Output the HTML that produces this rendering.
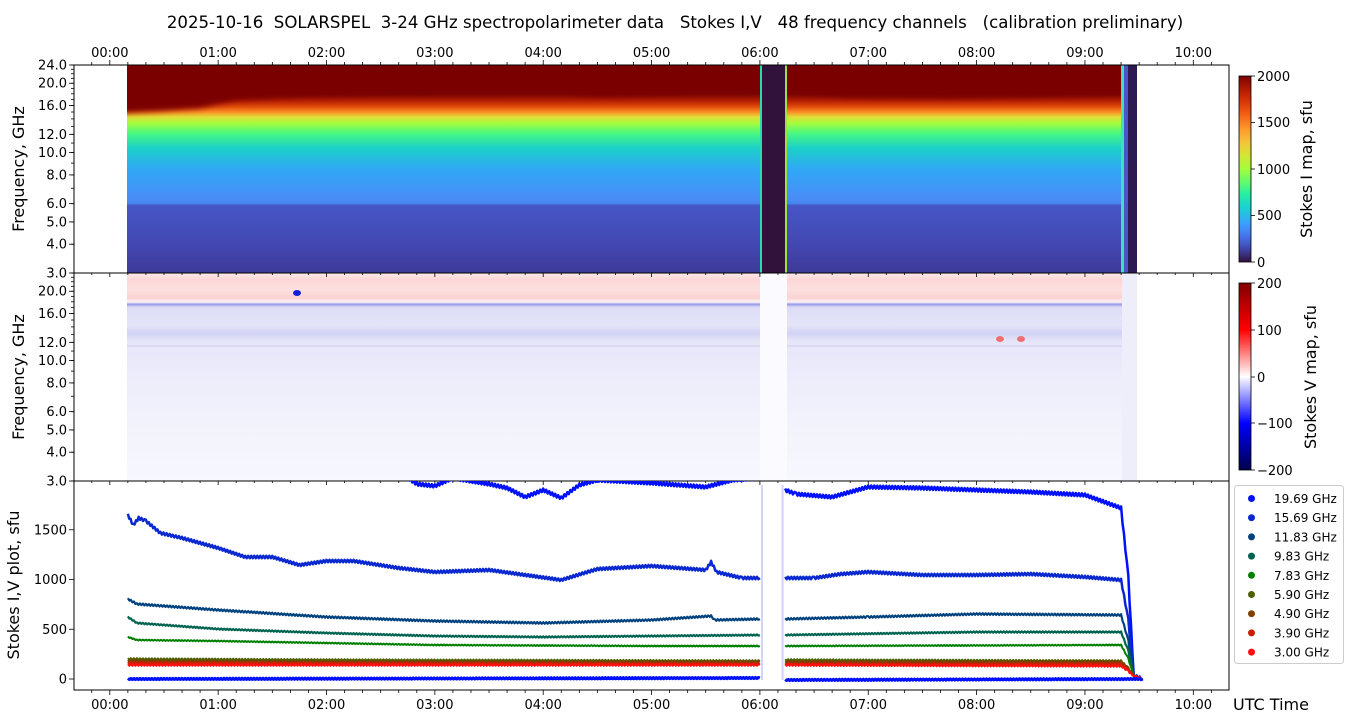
<!DOCTYPE html>
<html><head><meta charset="utf-8"><style>
html,body{margin:0;padding:0;background:#fff;}
svg{display:block;font-family:"DejaVu Sans","Liberation Sans",sans-serif;}
</style></head><body>
<svg id="s" width="1350" height="725" viewBox="0 0 1350 725" xmlns="http://www.w3.org/2000/svg">
<defs>
<linearGradient id="gI" gradientUnits="userSpaceOnUse" x1="0" y1="65" x2="0" y2="273">
<stop offset="0" stop-color="#7a0403"/>
<stop offset="0.14" stop-color="#7a0403"/>
<stop offset="0.17" stop-color="#b01c02"/>
<stop offset="0.20" stop-color="#e04a0a"/>
<stop offset="0.225" stop-color="#fb8a22"/>
<stop offset="0.25" stop-color="#e1dd37"/>
<stop offset="0.28" stop-color="#a4fc3b"/>
<stop offset="0.33" stop-color="#46f884"/>
<stop offset="0.40" stop-color="#1bd0c8"/>
<stop offset="0.50" stop-color="#30a8f5"/>
<stop offset="0.62" stop-color="#4591f8"/>
<stop offset="0.665" stop-color="#4a86f0"/>
<stop offset="0.675" stop-color="#4556c6"/>
<stop offset="0.85" stop-color="#4449b4"/>
<stop offset="1" stop-color="#3d3a98"/>
</linearGradient>
<linearGradient id="cbI" x1="0" y1="1" x2="0" y2="0">
<stop offset="0" stop-color="#30123b"/><stop offset="0.07" stop-color="#4145ab"/>
<stop offset="0.14" stop-color="#4675ed"/><stop offset="0.21" stop-color="#39a2fc"/>
<stop offset="0.29" stop-color="#1bcfd4"/><stop offset="0.36" stop-color="#24eca6"/>
<stop offset="0.43" stop-color="#61fc6c"/><stop offset="0.5" stop-color="#a4fc3b"/>
<stop offset="0.57" stop-color="#d1e834"/><stop offset="0.64" stop-color="#f3c63a"/>
<stop offset="0.71" stop-color="#fe9b2d"/><stop offset="0.79" stop-color="#f36315"/>
<stop offset="0.86" stop-color="#d93806"/><stop offset="0.93" stop-color="#b11901"/>
<stop offset="1" stop-color="#7a0403"/>
</linearGradient>
<linearGradient id="cbV" x1="0" y1="1" x2="0" y2="0">
<stop offset="0" stop-color="#00004c"/><stop offset="0.25" stop-color="#0000ff"/>
<stop offset="0.5" stop-color="#ffffff"/><stop offset="0.75" stop-color="#ff0000"/>
<stop offset="1" stop-color="#800000"/>
</linearGradient>
<linearGradient id="gV" gradientUnits="userSpaceOnUse" x1="0" y1="273" x2="0" y2="481">
<stop offset="0" stop-color="#fbeaea"/>
<stop offset="0.03" stop-color="#fdd6d6"/>
<stop offset="0.08" stop-color="#fde0e0"/>
<stop offset="0.12" stop-color="#fbd2d2"/>
<stop offset="0.14" stop-color="#fbf3f5"/>
<stop offset="0.15" stop-color="#9a9ae8"/>
<stop offset="0.165" stop-color="#dcdcf6"/>
<stop offset="0.25" stop-color="#e4e4f8"/>
<stop offset="0.29" stop-color="#d2d2f4"/>
<stop offset="0.33" stop-color="#e6e6f9"/>
<stop offset="0.5" stop-color="#ececfb"/>
<stop offset="0.7" stop-color="#f2f2fc"/>
<stop offset="1" stop-color="#f7f7fe"/>
</linearGradient>
<filter id="bl"><feGaussianBlur stdDeviation="3"/></filter>
<clipPath id="cp3"><rect x="74" y="481" width="1155" height="209"/></clipPath>
<clipPath id="cp1"><rect x="127" y="65" width="997" height="208"/></clipPath>
</defs>
<text x="675" y="28" font-size="16.6" text-anchor="middle" style="white-space:pre">2025-10-16  SOLARSPEL  3-24 GHz spectropolarimeter data   Stokes I,V   48 frequency channels   (calibration preliminary)</text>

<!-- top panel -->
<rect x="127" y="65" width="633" height="208" fill="url(#gI)"/>
<rect x="787" y="65" width="337" height="208" fill="url(#gI)"/>
<g clip-path="url(#cp1)">
<path filter="url(#bl)" d="M120,60 L120,113 L160,111 L200,108 L235,100 L300,96 L400,93 L560,92 L600,96 L760,90 L760,60 Z M787,60 L787,92 L850,97 L950,98 L1050,96 L1124,93 L1124,60Z" fill="#7a0403"/>
</g>
<rect x="760" y="65" width="27" height="208" fill="#30123b"/>
<rect x="760" y="65" width="2" height="208" fill="#2bd8b0"/>
<rect x="785" y="65" width="2" height="208" fill="#9ee040"/>
<rect x="1121" y="65" width="3" height="208" fill="#3ee0c0"/>
<rect x="1124" y="65" width="4" height="208" fill="#4a56c8"/>
<rect x="1128" y="65" width="9" height="208" fill="#2e1a52"/>

<!-- middle panel -->
<rect x="127" y="273" width="1010" height="208" fill="url(#gV)"/>
<rect x="760" y="273" width="27" height="208" fill="#fbfbff"/>
<rect x="1122" y="273" width="15" height="208" fill="#eeeefb"/>
<ellipse cx="297" cy="293" rx="4" ry="3" fill="#1020d0"/>
<ellipse cx="1000" cy="339" rx="4" ry="3" fill="#f07070"/>
<ellipse cx="1021" cy="339" rx="4" ry="3" fill="#f07070"/>
<rect x="127" y="345" width="633" height="2" fill="#d4d4f2" opacity="0.7"/>
<rect x="787" y="345" width="335" height="2" fill="#d4d4f2" opacity="0.7"/>

<g id="ax"></g>
<g id="series" clip-path="url(#cp3)"></g>

<!-- colorbars -->
<rect x="1239" y="76" width="12" height="186" fill="url(#cbI)" stroke="#000" stroke-width="0.8"/>
<rect x="1239" y="283" width="12" height="187" fill="url(#cbV)" stroke="#000" stroke-width="0.8"/>
<g font-size="13">
<text x="1257" y="81">2000</text><text x="1257" y="127">1500</text><text x="1257" y="174">1000</text><text x="1257" y="220">500</text><text x="1257" y="267">0</text>
<text x="1257" y="288">200</text><text x="1257" y="335">100</text><text x="1257" y="382">0</text><text x="1257" y="428">−100</text><text x="1257" y="475">−200</text>
</g>
<g stroke="#000" stroke-width="0.8">
<line x1="1251" y1="76" x2="1255" y2="76"/><line x1="1251" y1="122.5" x2="1255" y2="122.5"/><line x1="1251" y1="169" x2="1255" y2="169"/><line x1="1251" y1="215.5" x2="1255" y2="215.5"/><line x1="1251" y1="262" x2="1255" y2="262"/>
<line x1="1251" y1="283" x2="1255" y2="283"/><line x1="1251" y1="330" x2="1255" y2="330"/><line x1="1251" y1="377" x2="1255" y2="377"/><line x1="1251" y1="423" x2="1255" y2="423"/><line x1="1251" y1="470" x2="1255" y2="470"/>
</g>
<text transform="translate(1312,169) rotate(-90)" font-size="16" text-anchor="middle">Stokes I map, sfu</text>
<text transform="translate(1316,377) rotate(-90)" font-size="16" text-anchor="middle">Stokes V map, sfu</text>
<text transform="translate(24,169) rotate(-90)" font-size="16" text-anchor="middle">Frequency, GHz</text>
<text transform="translate(24,377) rotate(-90)" font-size="16" text-anchor="middle">Frequency, GHz</text>
<text transform="translate(19,585) rotate(-90)" font-size="16" text-anchor="middle">Stokes I,V plot, sfu</text>
<text x="1233" y="710" font-size="16">UTC Time</text>

<!-- legend -->
<rect x="1234.5" y="485.5" width="109" height="178" rx="3" fill="#fff" stroke="#ccc"/>
<g id="leg" font-size="12"></g>
</svg>
<script>
const NS="http://www.w3.org/2000/svg";
function el(p,t,a,txt){const e=document.createElementNS(NS,t);for(const k in a)e.setAttribute(k,a[k]);if(txt!==undefined)e.textContent=txt;p.appendChild(e);return e;}
const ax=document.getElementById('ax');
const X=h=>109.8+108.35*h;
const L=74,R=1229;
[[65,273],[273,481],[481,690]].forEach(([a,b])=>el(ax,'rect',{x:L,y:a,width:R-L,height:b-a,fill:'none',stroke:'#000','stroke-width':1}));
for(let m=-10;m<=620;m+=10){const x=X(m/60);if(x<L||x>R)continue;const maj=m%60==0;const len=maj?5:3;
 el(ax,'line',{x1:x,y1:65,x2:x,y2:65-len,stroke:'#000','stroke-width':0.8});
 el(ax,'line',{x1:x,y1:690,x2:x,y2:690+len,stroke:'#000','stroke-width':0.8});
 el(ax,'line',{x1:x,y1:273,x2:x,y2:273+len-1,stroke:'#000','stroke-width':0.8});
 el(ax,'line',{x1:x,y1:481,x2:x,y2:481+len-1,stroke:'#000','stroke-width':0.8});
 if(maj){const lab=String(m/60).padStart(2,'0')+':00';
  el(ax,'text',{x:x,y:57,'font-size':13,'text-anchor':'middle'},lab);
  el(ax,'text',{x:x,y:709,'font-size':13,'text-anchor':'middle'},lab);}
}
function fy(f,b){return b-Math.log(f/3)/Math.log(8)*208;}
[[273,true],[481,false]].forEach(([b,top])=>{
 for(let f=3;f<=24;f++){const y=fy(f,b);el(ax,'line',{x1:L,y1:y,x2:L-3,y2:y,stroke:'#000','stroke-width':0.8});}
 const labs=top?[3,4,5,6,8,10,12,16,20,24]:[3,4,5,6,8,10,12,16,20];
 labs.forEach(f=>{const y=fy(f,b);el(ax,'line',{x1:L,y1:y,x2:L-5,y2:y,stroke:'#000','stroke-width':0.8});
  el(ax,'text',{x:L-7,y:y+4.5,'font-size':13,'text-anchor':'end'},f.toFixed(1));});
});
const V=v=>679-v*0.0995;
[0,500,1000,1500].forEach(v=>{const y=V(v);el(ax,'line',{x1:L,y1:y,x2:L-5,y2:y,stroke:'#000','stroke-width':0.8});
 el(ax,'text',{x:L-7,y:y+4.5,'font-size':13,'text-anchor':'end'},v);});
const S=document.getElementById('series');
function hm(h,m){return h+m/60;}
function series(pts,color,w,jit){
 let segs=[[],[]];
 pts.forEach(p=>{(p[0]<6.01?segs[0]:segs[1]).push(p);});
 segs.forEach(seg=>{if(seg.length<2)return;let d='';
  for(let i=0;i<seg.length-1;i++){const [h0,y0]=seg[i],[h1,y1]=seg[i+1];const n=Math.max(1,Math.round((X(h1)-X(h0))/1.5));
   for(let k=0;k<n;k++){const t=k/n;const x=X(h0+(h1-h0)*t);const y=y0+(y1-y0)*t+(k%2?jit:-jit);d+=(d?'L':'M')+x.toFixed(1)+','+y.toFixed(1);}}
  const l=seg[seg.length-1];d+='L'+X(l[0]).toFixed(1)+','+l[1];
  el(S,'path',{d:d,fill:'none',stroke:color,'stroke-width':w,'stroke-linejoin':'round'});});
}
const tail=(y)=>[[hm(9,20),y],[hm(9,24),y+ (679-y)*0.4],[hm(9,27),676],[hm(9,32),679]];
series([[hm(0,10),470],[hm(2,40),472],[hm(2,50),484],[hm(3,0),486],[hm(3,10),478],[hm(3,30),484],[hm(3,40),488],[hm(3,50),497],[hm(4,0),490],[hm(4,10),498],[hm(4,20),485],[hm(4,30),480],[hm(5,0),483],[hm(5,30),487],[hm(5,45),480],[hm(6,0),478],
 [hm(6,14),490],[hm(6,20),494],[hm(6,40),497],[hm(6,50),492],[hm(7,0),487],[hm(7,30),488],[hm(8,0),490],[hm(8,30),492],[hm(9,0),495],[hm(9,20),508]].concat(tail(508)),'#0010ff',2.5,1.5);
series([[hm(0,10),515],[hm(0,13),525],[hm(0,16),518],[hm(0,20),521],[hm(0,28),533],[hm(0,40),538],[hm(1,0),548],[hm(1,15),557],[hm(1,30),557],[hm(1,45),565],[hm(2,0),561],[hm(2,15),561],[hm(2,40),568],[hm(3,0),572],[hm(3,30),570],[hm(3,50),575],[hm(4,10),580],[hm(4,30),569],[hm(5,0),566],[hm(5,30),570],[hm(5,33),562],[hm(5,36),572],[hm(5,50),578],[hm(6,0),578],
 [hm(6,14),578],[hm(6,30),578],[hm(6,45),574],[hm(7,0),572],[hm(7,30),575],[hm(8,0),575],[hm(8,30),574],[hm(9,0),577],[hm(9,20),580]].concat(tail(580)),'#0a28d0',2.5,1.2);
series([[hm(0,10),599],[hm(0,15),604],[hm(1,0),610],[hm(2,0),617],[hm(3,0),621],[hm(4,0),623],[hm(5,0),620],[hm(5,33),616],[hm(5,35),620],[hm(6,0),619],[hm(6,14),619],[hm(7,0),617],[hm(8,0),614],[hm(9,20),615]].concat(tail(615)),'#00427e',2.2,0.8);
series([[hm(0,10),617],[hm(0,15),623],[hm(1,0),629],[hm(2,0),633],[hm(3,0),636],[hm(4,0),637],[hm(5,0),636],[hm(6,0),635],[hm(6,14),635],[hm(8,0),632],[hm(9,20),632]].concat(tail(632)),'#006450',2.2,0.6);
series([[hm(0,10),637],[hm(0,15),640],[hm(1,0),641],[hm(2,0),643],[hm(3,0),645],[hm(5,0),646],[hm(6,0),646],[hm(6,14),646],[hm(9,20),645]].concat(tail(645)),'#008000',2,0.5);
series([[hm(0,10),659],[hm(2,0),660],[hm(6,0),661],[hm(6,14),660],[hm(9,20),661]].concat(tail(661)),'#4e6000',2,0.8);
series([[hm(0,10),661],[hm(2,0),662],[hm(6,0),662],[hm(6,14),662],[hm(9,20),662]].concat(tail(662)),'#804000',2,0.8);
series([[hm(0,10),663],[hm(6,0),664],[hm(6,14),664],[hm(9,20),664]].concat(tail(664)),'#c82000',2,0.8);
series([[hm(0,10),665],[hm(6,0),665],[hm(6,14),665],[hm(9,20),666]].concat(tail(666)),'#ff1010',2,0.8);
series([[hm(0,10),679],[hm(6,0),678],[hm(6,14),680],[hm(9,32),679]],'#0010ff',3,0.6);
el(S,'rect',{x:X(6.01),y:485,width:2,height:195,fill:'#b0b8ff',opacity:0.6});
el(S,'rect',{x:X(6.2),y:485,width:2,height:195,fill:'#b0b8ff',opacity:0.6});
const leg=document.getElementById('leg');
[['19.69 GHz','#0010ff'],['15.69 GHz','#0a28d0'],['11.83 GHz','#00427e'],['9.83 GHz','#006450'],['7.83 GHz','#008000'],['5.90 GHz','#4e6000'],['4.90 GHz','#804000'],['3.90 GHz','#c82000'],['3.00 GHz','#ff1010']].forEach((e,i)=>{
 const y=498.5+i*19.2;el(leg,'circle',{cx:1251.5,cy:y,r:3.5,fill:e[1]});el(leg,'text',{x:1274,y:y+4.5},e[0]);});
</script>
</body></html>
